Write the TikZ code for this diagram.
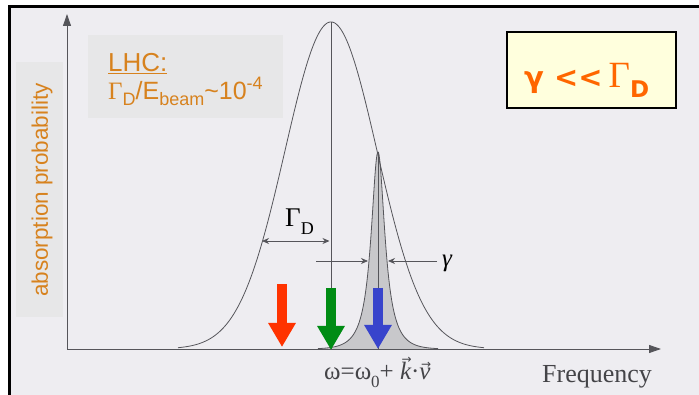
\documentclass[tikz,border=0pt]{standalone}
\usepackage{fontspec}
\setmainfont{Liberation Serif}
\newfontfamily\sansf{Liberation Sans}
\newfontfamily\dvs{DejaVu Sans}
\newfontfamily\dvsb{DejaVu Sans Bold}
\usetikzlibrary{arrows.meta}
\definecolor{bg}{RGB}{238,237,241}
\definecolor{boxgray}{RGB}{231,231,232}
\definecolor{curvegray}{RGB}{85,85,90}
\definecolor{lorgray}{RGB}{200,200,203}
\definecolor{lhcorange}{RGB}{215,130,30}
\definecolor{boxorange}{RGB}{255,102,0}
\definecolor{boxyellow}{RGB}{255,255,221}
\definecolor{arrred}{RGB}{255,51,0}
\definecolor{arrgreen}{RGB}{0,140,20}
\definecolor{arrblue}{RGB}{56,68,204}
\newcommand\myvec[2]{\begingroup\setbox0\hbox{\itshape #1}\makebox[\wd0][c]{\hspace{2pt}\raisebox{#2}[0pt][0pt]{\dvs\fontsize{12}{12}\selectfont →}}\kern-\wd0\box0\endgroup}
\newcommand\mysub[2]{\raisebox{-#2}{\fontsize{18}{18}\selectfont #1}}
\tikzset{
  curve/.style={draw=curvegray, line width=0.8pt},
  axisline/.style={draw=curvegray, line width=0.9pt, -{Triangle[length=12pt,width=8pt]}},
  dimline/.style={draw=curvegray, line width=0.8pt},
  dimtip/.style={-{Stealth[length=7pt,width=6pt]}},
  bigarrow/.style={line width=10pt, -{Triangle[length=24pt,width=26pt]}},
  lbl/.style={inner sep=0pt, anchor=base west}
}
\begin{document}
\begin{tikzpicture}[x=1pt,y=-1pt]
\useasboundingbox (0,0) rectangle (699,395);
\fill[white] (0,0) rectangle (699,395);
\fill[bg] (9,6) rectangle (699,395);
\draw[line width=2.5pt] (9.5,395) -- (9.5,6.5) -- (699,6.5);
% label boxes
\fill[boxgray] (88,35) rectangle (283,118);
\fill[boxgray] (16,62) rectangle (63,317);
% axes
\coordinate (O) at (67,349);
\coordinate (ytop) at (67,14);
\coordinate (xend) at (661,349);
\draw[axisline] (O) -- (ytop);
\draw[axisline] (O) -- (xend);
% Lorentzian (filled)
\fill[lorgray] plot[domain=318:438, samples=300] (\x,{349-197/(1+((\x-378)/8.5)^2)*exp(-((\x-378)/40)^2)}) -- (438,349) -- (318,349) -- cycle;
\draw[curve] plot[domain=318:438, samples=300] (\x,{349-197/(1+((\x-378)/8.5)^2)*exp(-((\x-378)/40)^2)});
\coordinate (lpeak) at (378,152);
\coordinate (lbase) at (378,349);
\draw[curve] (lbase) -- (lpeak);
% Gaussian
\draw[curve] plot[domain=178:484, samples=200] (\x,{349-327*exp(-0.5*((\x-331)/46)^2)});
\coordinate (gpeak) at (331,22);
\coordinate (gbase) at (331,349);
\draw[curve] (gbase) -- (gpeak);
% Gamma_D dimension
\coordinate (gdl) at (262,241);
\coordinate (gdr) at (329.5,241);
\draw[dimline, {Stealth[length=7pt,width=6pt]}-{Stealth[length=7pt,width=6pt]}] (gdl) -- (gdr);
\node[lbl] (gdlab) at (285,227) {\fontsize{27}{27}\selectfont Γ\mysub{D}{8pt}};
% gamma dimension
\coordinate (gal) at (316,261);
\coordinate (galt) at (368,261);
\coordinate (gar) at (437,261);
\coordinate (gart) at (388,261);
\draw[dimline, dimtip] (gal) -- (galt);
\draw[dimline, dimtip] (gar) -- (gart);
\node[inner sep=0pt] (galab) at (447,263) {\fontsize{25}{25}\selectfont\itshape γ};
% coloured arrows
\coordinate (rt) at (282,284); \coordinate (rb) at (282,347);
\coordinate (gt) at (331,288); \coordinate (gb) at (331,350);
\coordinate (bt) at (378,288); \coordinate (bb) at (378,349);
\draw[bigarrow, arrred] (rt) -- (rb);
\draw[bigarrow, arrgreen] (gt) -- (gb);
\draw[bigarrow, arrblue] (bt) -- (bb);
% axis labels
\node[lbl, text=curvegray!80!black] (freq) at (542,382) {\fontsize{26}{26}\selectfont Frequency};
\node[lbl, text=curvegray!80!black] (form) at (324,380) {\fontsize{25}{25}\selectfont ω=ω\raisebox{-8pt}{\fontsize{17}{17}\selectfont 0}+ \myvec{k}{17pt}·\myvec{v}{12pt}};
% LHC text
\node[lbl, text=lhcorange] (lhc) at (108,72) {\sansf\fontsize{26}{26}\selectfont\underline{LHC:}};
\node[lbl, text=lhcorange] (ratio) at (108,100) {\sansf\fontsize{25}{25}\selectfont{\rmfamily Γ}\mysub{D}{6pt}/E\mysub{beam}{6pt}\textasciitilde 10\raisebox{10pt}{\fontsize{18}{18}\selectfont -4}};
\node[rotate=90, inner sep=0pt, text=lhcorange] (absp) at (42,190) {\sansf\fontsize{22.5}{22.5}\selectfont absorption probability};
% gamma << Gamma_D box
\node[draw=black, line width=2pt, fill=boxyellow, minimum width=169pt, minimum height=76pt, inner sep=0pt] (ybox) at (591,70.5) {};
\node[lbl, text=boxorange] (ineq) at (524,88) {\dvsb\fontsize{29}{29}\selectfont γ <<\hspace{6pt}{\rmfamily\fontsize{37}{37}\selectfont Γ}\raisebox{-10pt}{\fontsize{23}{23}\selectfont D}};
\end{tikzpicture}
\end{document}
